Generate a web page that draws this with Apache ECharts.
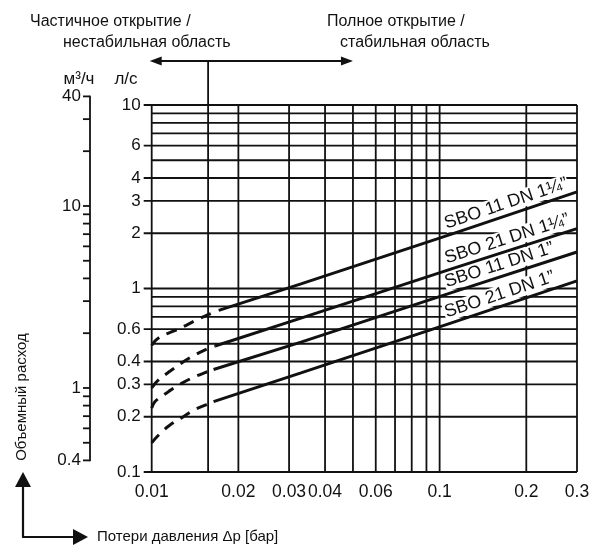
<!DOCTYPE html>
<html><head><meta charset="utf-8">
<script src="https://cdn.jsdelivr.net/npm/echarts@6/dist/echarts.min.js"></script>
<style>html,body{margin:0;padding:0;background:#fff}#c{width:593px;height:545px}</style>
</head><body><div id="c"></div>
<script>
// ---------- data ----------
const dpGridValues = [0.01,0.02,0.03,0.04,0.05,0.06,0.07,0.08,0.09,0.1,0.2,0.3];
const dpTickLabels = [0.01,0.02,0.03,0.04,0.06,0.1,0.2,0.3];
const qGridValues = [0.1,0.2,0.3,0.4,0.5,0.6,0.7,0.8,0.9,1,2,3,4,5,6,7,8,9,10];
const qTickLabels = [0.1,0.2,0.3,0.4,0.6,1,2,3,4,6,10];
const m3hTicks = [0.4,0.5,0.6,0.7,0.8,0.9,1,2,3,4,5,6,7,8,9,10,20,30,40];
const m3hTickLabels = [0.4,1,10,40];
const regionBoundaryDp = 0.0157;
const regionArrowDp = [0.01, 0.05];

const curveNames = ['SBO 11 DN 1¼”', 'SBO 21 DN 1¼”', 'SBO 11 DN 1”', 'SBO 21 DN 1”'];

const sbo11Dn114Dashed = [[0.01,0.49],[0.0103,0.52],[0.0108,0.55],[0.0119,0.585],[0.0129,0.62],[0.0142,0.67],[0.0157,0.72],[0.0171,0.76]];
const sbo11Dn114Solid  = [[0.0171,0.76],[0.033,1.06],[0.11,1.98],[0.3,3.36]];
const sbo21Dn114Dashed = [[0.01,0.287],[0.0103,0.305],[0.0108,0.327],[0.0116,0.355],[0.0127,0.393],[0.0138,0.426],[0.0154,0.465],[0.0166,0.486]];
const sbo21Dn114Solid  = [[0.0166,0.486],[0.033,0.69],[0.11,1.28],[0.3,2.12]];
const sbo11Dn1Dashed   = [[0.01,0.223],[0.01024,0.241],[0.0109,0.26],[0.01146,0.275],[0.0127,0.304],[0.0139,0.327],[0.0154,0.349],[0.0164,0.362]];
const sbo11Dn1Solid    = [[0.0164,0.362],[0.033,0.51],[0.11,0.95],[0.3,1.58]];
const sbo21Dn1Dashed   = [[0.01,0.144],[0.01024,0.151],[0.01083,0.165],[0.01155,0.18],[0.0128,0.199],[0.0139,0.216],[0.0155,0.233],[0.0164,0.242]];
const sbo21Dn1Solid    = [[0.0164,0.242],[0.033,0.347],[0.11,0.65],[0.3,1.1]];

const dashedCurves = [sbo11Dn114Dashed, sbo21Dn114Dashed, sbo11Dn1Dashed, sbo21Dn1Dashed];
const solidCurves  = [sbo11Dn114Solid, sbo21Dn114Solid, sbo11Dn1Solid, sbo21Dn1Solid];

// ---------- fonts ----------
function hasFont(name){
  const c = document.createElement('canvas').getContext('2d');
  const s = 'abcdefghijklmnopqrstuvwxyzАБВгдежз0123456789';
  let diff = false;
  ['monospace','serif'].forEach(fb=>{
    c.font = '40px ' + fb; const w1 = c.measureText(s).width;
    c.font = "40px '" + name + "', " + fb; const w2 = c.measureText(s).width;
    if (Math.abs(w1-w2) > 0.5) diff = true;
  });
  return diff;
}
const NARROW = hasFont('Liberation Sans Narrow');
const FF = NARROW ? "'Liberation Sans Narrow', 'Liberation Sans', Arial, sans-serif" : "'Liberation Sans', Arial, sans-serif";
const FS = NARROW
  ? {title:19, tickX:21, tickY:20, curve:21, unit:19, axisTitle:18}
  : {title:16, tickX:17.5, tickY:17, curve:18, unit:17, axisTitle:15};

const INK = '#111';
const GRID_W = 1.8;
const TICK = 8;
const DP_MIN = dpGridValues[0], DP_MAX = dpGridValues[dpGridValues.length-1];
const Q_MIN = qGridValues[0], Q_MAX = qGridValues[qGridValues.length-1];
const fmt = v => String(v);

function txt(text, x, y, size, align, valign, extra){
  return Object.assign({type:'text', x, y, style:{text, fill:INK, fontSize:size, fontFamily:FF, align, verticalAlign:valign}}, extra||{});
}

const series = [];

// horizontal grid lines + l/s tick labels
series.push({
  type:'custom', xAxisIndex:0, yAxisIndex:0, silent:true, z:2,
  data: qGridValues.map(q=>[DP_MIN, q]),
  renderItem(params, api){
    const q = api.value(1);
    const a = api.coord([DP_MIN, q]), b = api.coord([DP_MAX, q]);
    const labeled = qTickLabels.indexOf(q) >= 0;
    const ch = [{type:'line', shape:{x1:a[0]-(labeled?TICK:0), y1:a[1], x2:b[0], y2:b[1]}, style:{stroke:INK, lineWidth:GRID_W}}];
    if (labeled) ch.push(txt(fmt(q), a[0]-TICK-3, a[1], FS.tickY, 'right', 'middle'));
    return {type:'group', children:ch};
  }
});
// vertical grid lines + Δp tick labels
series.push({
  type:'custom', xAxisIndex:0, yAxisIndex:0, silent:true, z:2,
  data: dpGridValues.map(d=>[d, Q_MIN]),
  renderItem(params, api){
    const d = api.value(0);
    const a = api.coord([d, Q_MIN]), b = api.coord([d, Q_MAX]);
    const ch = [{type:'line', shape:{x1:a[0], y1:a[1], x2:b[0], y2:b[1]}, style:{stroke:INK, lineWidth:GRID_W}}];
    if (dpTickLabels.indexOf(d) >= 0) ch.push(txt(fmt(d), a[0], a[1]+20, FS.tickX, 'center', 'middle'));
    return {type:'group', children:ch};
  }
});
// region boundary line and arrow
series.push({
  type:'custom', xAxisIndex:0, yAxisIndex:0, silent:true, z:2,
  data: [[regionBoundaryDp, Q_MIN]],
  renderItem(params, api){
    const a = api.coord([regionBoundaryDp, Q_MIN]), top = api.coord([regionBoundaryDp, Q_MAX]);
    const ay = top[1] - 44;
    const l = api.coord([regionArrowDp[0], Q_MAX])[0] - 2, r = api.coord([regionArrowDp[1], Q_MAX])[0];
    const L = 12, H = 4.5;
    return {type:'group', children:[
      {type:'line', shape:{x1:a[0], y1:a[1], x2:a[0], y2:ay}, style:{stroke:INK, lineWidth:GRID_W}},
      {type:'line', shape:{x1:l+L-1, y1:ay, x2:r-L+1, y2:ay}, style:{stroke:INK, lineWidth:2.2}},
      {type:'polygon', shape:{points:[[l,ay],[l+L,ay-H],[l+L,ay+H]]}, style:{fill:INK}},
      {type:'polygon', shape:{points:[[r,ay],[r-L,ay-H],[r-L,ay+H]]}, style:{fill:INK}}
    ]};
  }
});
// m3/h ticks and labels
series.push({
  type:'custom', xAxisIndex:1, yAxisIndex:1, silent:true, z:2,
  data: m3hTicks.map(v=>[0, v]),
  renderItem(params, api){
    const v = api.value(1);
    const p = api.coord([0, v]);
    const ch = [{type:'line', shape:{x1:p[0]-7, y1:p[1], x2:p[0], y2:p[1]}, style:{stroke:INK, lineWidth:GRID_W}}];
    if (m3hTickLabels.indexOf(v) >= 0) ch.push(txt(fmt(v), p[0]-9, p[1], FS.tickY, 'right', 'middle'));
    return {type:'group', children:ch};
  }
});
// curves
dashedCurves.forEach((d,i)=>series.push({
  type:'line', name:curveNames[i]+' (dashed)', xAxisIndex:0, yAxisIndex:0, data:d, showSymbol:false, symbol:'none',
  smooth:0.35, z:5, lineStyle:{color:INK, width:3, type:[11,8]}
}));
solidCurves.forEach((d,i)=>series.push({
  type:'line', name:curveNames[i], xAxisIndex:0, yAxisIndex:0, data:d, showSymbol:false, symbol:'none',
  smooth:false, z:5, lineStyle:{color:INK, width:3}
}));
// curve labels along the lines (white box hides the grid behind the text)
series.push({
  type:'custom', xAxisIndex:0, yAxisIndex:0, silent:true, z:4,
  data: solidCurves.map((s,i)=>[s[s.length-2][0], s[s.length-2][1], i]),
  renderItem(params, api){
    const i = api.value(2);
    const s = solidCurves[i];
    const p1 = api.coord([api.value(0), api.value(1)]);
    const p2 = api.coord(s[s.length-1]);
    const ang = Math.atan2(-(p2[1]-p1[1]), p2[0]-p1[0]);
    const ux = Math.cos(ang), uy = -Math.sin(ang);      // along line (screen)
    const nx = uy, ny = -ux;                              // normal pointing up
    const x = p1[0] - 4*ux + 2.5*nx, y = p1[1] - 4*uy + 2.5*ny;
    return {type:'text', x, y, rotation:ang, style:{text:curveNames[i], fill:INK, fontSize:FS.curve, fontFamily:FF,
      align:'left', verticalAlign:'bottom', backgroundColor:'#fff', padding:[0,1,0,1]}};
  }
});

const option = {
  animation:false,
  backgroundColor:'#fff',
  grid:[
    {left:151.7, right:16, top:105, bottom:73, outerBoundsMode:'none', containLabel:false},
    {left:90, width:10, top:96.4, height:364, outerBoundsMode:'none', containLabel:false}
  ],
  xAxis:[
    {type:'log', logBase:10, gridIndex:0, min:DP_MIN, max:DP_MAX, show:false},
    {type:'value', gridIndex:1, min:0, max:1, show:false}
  ],
  yAxis:[
    {type:'log', logBase:10, gridIndex:0, min:Q_MIN, max:Q_MAX, show:false},
    {type:'log', logBase:10, gridIndex:1, min:m3hTicks[0], max:m3hTicks[m3hTicks.length-1], position:'left',
     axisLine:{show:true, lineStyle:{color:INK, width:GRID_W}}, axisTick:{show:false}, axisLabel:{show:false}, splitLine:{show:false}}
  ],
  graphic:[
    txt('Частичное открытие /', 30, 22, FS.title, 'left', 'middle'),
    txt('нестабильная область', 63, 43, FS.title, 'left', 'middle'),
    txt('Полное открытие /', 327, 22, FS.title, 'left', 'middle'),
    txt('стабильная область', 340, 43, FS.title, 'left', 'middle'),
    txt('м³/ч', 79, 79, FS.unit, 'center', 'middle'),
    txt('л/с', 126, 79, FS.unit, 'center', 'middle'),
    txt('Объемный расход', 22, 397, FS.axisTitle, 'center', 'middle', {rotation:Math.PI/2}),
    txt('Потери давления Δp [бар]', 97, 537, FS.axisTitle, 'left', 'middle'),
    {type:'line', shape:{x1:23, y1:537, x2:23, y2:486}, style:{stroke:INK, lineWidth:2.2}},
    {type:'polygon', shape:{points:[[15,487],[31,487],[23,472]]}, style:{fill:INK}},
    {type:'line', shape:{x1:22, y1:537, x2:74, y2:537}, style:{stroke:INK, lineWidth:2.2}},
    {type:'polygon', shape:{points:[[73,529],[73,545],[88,537]]}, style:{fill:INK}}
  ],
  series
};
const chart = echarts.init(document.getElementById('c'), null, {renderer:'canvas'});
chart.setOption(option);
</script>
</body></html>
